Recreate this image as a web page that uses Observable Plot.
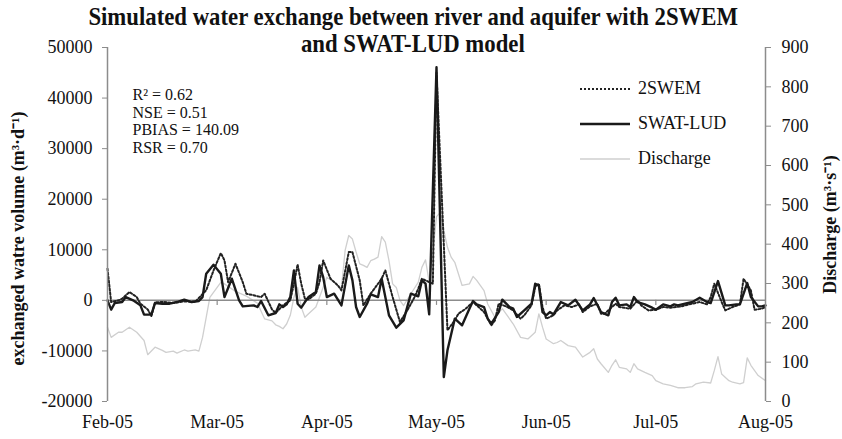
<!DOCTYPE html>
<html><head><meta charset="utf-8">
<script src="https://cdn.jsdelivr.net/npm/d3@7"></script>
<script src="https://cdn.jsdelivr.net/npm/@observablehq/plot@0.6"></script>
<style>
body{margin:0;background:#fff;}
#wrap{position:relative;width:842px;height:439px;font-family:"Liberation Serif","Times New Roman",serif;color:#111;}
#title{position:absolute;left:-8px;top:3px;width:842px;text-align:center;font-weight:bold;font-size:26px;line-height:27px;}
#title span{display:inline-block;transform:scaleX(0.875);white-space:nowrap;}
#legend{position:absolute;left:580px;top:71px;font-size:18px;}
.row{display:flex;align-items:center;height:35px;}
.row svg{margin-right:8px;}
</style></head>
<body><div id="wrap"><div id="chart"></div>
<div id="title"><span>Simulated water exchange between river and aquifer with 2SWEM</span><br><span>and SWAT-LUD model</span></div>
<div id="legend"></div></div>
<script>
// x: day index from 1 Feb 2005 (0) to 1 Aug 2005 (180)
const tickDays = [0, 30, 60, 90, 120, 150, 180];
const monthLabels = ["Feb-05", "Mar-05", "Apr-05", "May-05", "Jun-05", "Jul-05", "Aug-05"];
const leftTicks = [-20000, -10000, 0, 10000, 20000, 30000, 40000, 50000];
const rightTicks = [0, 100, 200, 300, 400, 500, 600, 700, 800, 900];

// SWAT-LUD simulated exchange (m3/d)
const swatDay = [0,1,2,4,5,7,9,10,12,13,15,17,19,21,23,25,26,27,29,31,32,34,36,37,40,41,42,44,46,47,48,49,50,51,52,53,54,55,57,58,59,60,62,64,66,67,68,69,71,72,74,75,77,79,81,83,85,86,87,88,90,92,93,95,97,99,100,101,103,104,105,107,108,110,111,112,114,116,117,118,119,120,121,122,124,126,128,130,132,133,135,137,138,139,140,142,143,144,145,147,149,150,152,154,155,156,158,160,162,164,165,167,169,170,172,173,175,176,178,179,180];
const swatValue = [0,-1840,-530,-330,650,0,-990,-2830,-2830,-530,-660,-660,-330,130,-330,-130,650,5270,7040,5270,650,4280,0,-1190,-990,-1320,-130,-2960,-2500,-790,-1320,-790,650,5930,-660,-1450,-330,650,1650,6920,4600,650,1320,-990,6920,3950,-1320,-3290,-660,1190,650,4280,-2960,-5400,-3950,1320,790,3950,3300,-2770,46100,-15150,-9880,-3620,-4940,-1650,-140,-790,-1320,-3620,-4610,-2310,130,-1320,-1650,-3290,-1980,-660,3290,2960,-2310,-2960,-2310,-2770,-330,-990,130,-1980,-790,460,-2310,-2960,-330,530,-990,-790,-1320,650,-330,-790,-1450,-1840,-790,-1190,-790,-990,-660,-330,530,-330,-530,3820,-990,-990,-790,-790,3420,650,-1190,-1190,-990];

// 2SWEM simulated exchange (m3/d)
const swemDay = [0,1,3,4,6,8,9,11,12,13,15,18,21,24,27,29,31,32,33,35,37,38,40,42,43,45,46,48,50,51,52,53,54,55,57,58,59,61,63,64,66,67,69,70,72,74,75,76,78,80,82,84,85,86,88,89,90,93,95,96,98,100,101,103,105,106,107,109,111,113,114,116,117,118,119,120,122,123,125,127,129,130,132,134,135,136,138,139,140,143,145,146,148,150,152,154,157,158,160,162,164,165,166,168,169,171,173,174,176,177,179,180];
const swemValue = [6260,-330,0,330,1650,650,-660,-1800,-3100,-400,-300,-500,-200,-300,2000,5900,9350,7900,3600,7250,3600,1300,1000,650,1300,-1800,-2500,-990,0,3290,7110,3290,330,200,1320,3620,7900,4280,2960,1980,9550,9550,3950,-990,1320,3290,4280,5930,650,-4280,-1980,650,2300,4280,3620,3290,45000,-5930,-3950,-2630,-1650,-330,-990,-2310,-4940,-3950,-660,-1190,-1980,-3620,-2960,-990,2630,3290,-1320,-3620,-2960,-1980,-990,-1320,-790,-2310,-1190,-660,-2630,-2630,-1320,-660,-1320,-1650,0,-990,-1980,-1840,-1320,-1450,-1190,-990,-660,-330,-790,650,3290,-330,-1980,-1320,-790,4280,1980,-1840,-1650,-1320];

// River discharge (m3/s)
const qDay = [0,1,3,4,6,8,10,11,13,15,16,18,19,21,22,24,25,26,27,28,30,31,32,35,38,41,43,45,46,47,48,49,50,51,52,53,54,55,57,58,60,62,64,65,66,67,68,69,70,71,72,73,74,75,76,77,78,79,80,81,83,85,86,87,88,89,90,91,92,93,94,95,97,99,100,101,103,104,106,108,111,113,115,117,118,119,120,122,123,124,126,128,130,132,133,134,135,137,138,139,140,142,143,144,145,147,149,150,152,154,156,158,160,161,163,165,166,167,168,170,171,173,174,175,176,178,180];
const qValue = [189,163,176,176,189,176,155,119,138,130,125,128,123,131,128,131,128,163,214,265,290,303,299,280,268,250,210,205,195,191,185,197,219,265,290,240,214,223,240,265,316,303,288,384,422,413,380,350,346,341,358,362,367,419,405,358,299,290,257,244,274,303,341,360,303,380,470,480,435,392,367,354,295,299,318,308,282,248,214,236,197,163,159,176,223,189,159,147,150,155,142,138,113,125,134,108,96,74,92,106,87,83,74,96,83,74,66,53,45,41,35,35,38,45,49,47,79,114,70,53,49,45,48,111,92,66,53];

const yMin = -20000, yMax = 50000, qMax = 900;
const qToLeft = v => yMin + v * (yMax - yMin) / qMax;
const leftToQ = v => Math.round((v - yMin) * qMax / (yMax - yMin));

const swat = swatDay.map((d, i) => ({day: d, value: swatValue[i]}));
const swem = swemDay.map((d, i) => ({day: d, value: swemValue[i]}));
const q = qDay.map((d, i) => ({day: d, value: qValue[i]}));

const grey = "#8c8c8c";
const stats = "R² = 0.62\nNSE = 0.51\nPBIAS = 140.09\nRSR = 0.70";

const chart = Plot.plot({
  width: 842, height: 439,
  marginLeft: 107, marginRight: 77, marginTop: 47, marginBottom: 38,
  x: {domain: [0, 180]},
  y: {domain: [yMin, yMax]},
  style: {fontFamily: "'Liberation Serif', 'Times New Roman', serif", fontSize: "18px", color: "#111", background: "white"},
  marks: [
    Plot.line(q, {x: "day", y: d => qToLeft(d.value), stroke: "#cfcfcf", strokeWidth: 1.3}),
    Plot.ruleY([0], {stroke: grey, strokeWidth: 1.5}),
    Plot.ruleX(tickDays.slice(1, -1), {y1: 0, y2: -1000, stroke: grey, strokeWidth: 1.2}),
    Plot.line(swem, {x: "day", y: "value", stroke: "#222", strokeWidth: 2, strokeDasharray: "2,2"}),
    Plot.line(swat, {x: "day", y: "value", stroke: "#1a1a1a", strokeWidth: 2.4}),
    Plot.ruleX([0, 180], {stroke: grey, strokeWidth: 1.5}),
    Plot.axisY({anchor: "left", ticks: leftTicks, tickSize: 5, tickPadding: 10, label: null, stroke: grey, tickFormat: d => String(d)}),
    Plot.axisY({anchor: "right", ticks: rightTicks.map(qToLeft), tickSize: 5, tickPadding: 11, label: null, stroke: grey, tickFormat: d => String(leftToQ(d))}),
    Plot.axisX({anchor: "bottom", ticks: tickDays, tickSize: 0, tickPadding: 14, label: null, tickFormat: d => monthLabels[tickDays.indexOf(d)]}),
    Plot.text([stats], {frameAnchor: "top-left", dx: 25, dy: 40, lineAnchor: "top", textAnchor: "start", fontSize: 16, lineHeight: 1.1}),
    Plot.text(["exchanged watre volume (m³·d⁻¹)"], {frameAnchor: "left", dx: -89, dy: 14, rotate: -90, textAnchor: "middle", lineAnchor: "middle", fontWeight: "bold", fontSize: 18}),
    Plot.text(["Discharge (m³·s⁻¹)"], {frameAnchor: "right", dx: 65, rotate: -90, textAnchor: "middle", lineAnchor: "middle", fontWeight: "bold", fontSize: 18})
  ]
});
document.getElementById("chart").appendChild(chart);

// legend
const legendItems = [
  {name: "2SWEM", stroke: "#222", width: 2, dash: "2,2"},
  {name: "SWAT-LUD", stroke: "#1a1a1a", width: 2.4, dash: null},
  {name: "Discharge", stroke: "#cfcfcf", width: 1.3, dash: null}
];
const lg = d3.select("#legend");
legendItems.forEach(it => {
  const row = lg.append("div").attr("class", "row");
  const s = row.append("svg").attr("width", 50).attr("height", 10);
  s.append("line").attr("x1", 0).attr("x2", 50).attr("y1", 5).attr("y2", 5)
    .attr("stroke", it.stroke).attr("stroke-width", it.width).attr("stroke-dasharray", it.dash);
  row.append("span").text(it.name);
});
</script>
</body></html>
